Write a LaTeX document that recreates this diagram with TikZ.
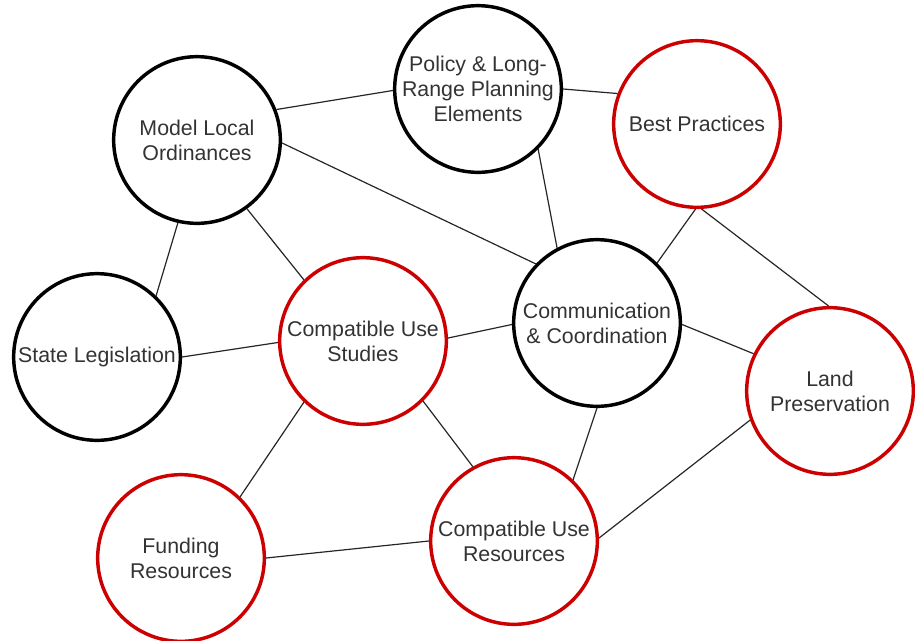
\documentclass[tikz,border=0pt]{standalone}
\usepackage{fontspec}
\setmainfont{Liberation Sans}
\definecolor{ringred}{HTML}{CC0000}
\definecolor{txtgray}{HTML}{333333}
\tikzset{
  ring/.style={circle, draw, line width=2.6pt, fill=white, minimum size=125pt,
    inner sep=0pt, align=center, text=txtgray, font=\fontsize{16}{18.75}\selectfont},
  hub/.style={ring, draw=black},
  ext/.style={ring, draw=ringred},
  link/.style={draw=black!85, line width=0.9pt}
}
\begin{document}
\begin{tikzpicture}[x=0.75pt,y=-0.75pt]
        \useasboundingbox (0,0) rectangle (915,640);

        \node (mlo) at (197,140) [hub] {Model Local\\Ordinances};
        \node (pol) at (478,89) [hub] {Policy \& Long-\\Range Planning\\Elements};
        \node (bp) at (697,124) [ext] {Best Practices};
        \node (sl) at (97,357) [hub] {State Legislation};
        \node (cus) at (363,341) [ext] {Compatible Use\\Studies};
        \node (cc) at (597,323) [hub] {Communication\\\& Coordination};
        \node (lp) at (830,391) [ext] {Land\\Preservation};
        \node (fr) at (181,558) [ext] {Funding\\Resources};
        \node (cur) at (514,541) [ext] {Compatible Use\\Resources};

        \draw[link] (mlo.21) -- (pol.181);
        \draw[link] (mlo.-2) -- (cc.136);
        \draw[link] (mlo.257) -- (sl.46);
        \draw[link] (mlo.-54) -- (cus.134);
        \draw[link] (pol.0) -- (bp.159);
        \draw[link] (pol.-45) -- (cc.118);
        \draw[link] (bp.269) -- (cc.45);
        \draw[link] (bp.273) -- (lp.91);
        \draw[link] (sl.0) -- (cus.181);
        \draw[link] (cus.2) -- (cc.181);
        \draw[link] (cus.226) -- (fr.46);
        \draw[link] (cus.-45) -- (cur.119);
        \draw[link] (fr.0) -- (cur.180);
        \draw[link] (cc.270) -- (cur.46);
        \draw[link] (cc.-1) -- (lp.154);
        \draw[link] (cur.2) -- (lp.200);
        \end{tikzpicture}
\end{document}
